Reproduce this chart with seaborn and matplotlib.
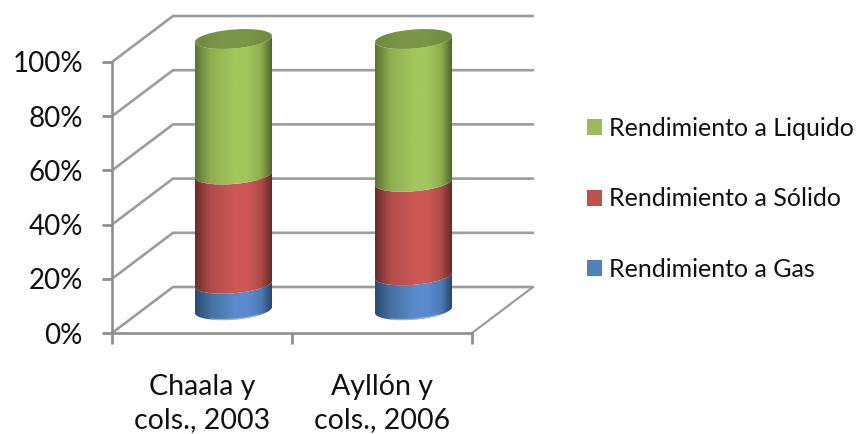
import numpy as np
import pandas as pd
import seaborn as sns
import matplotlib
matplotlib.use("Agg")
import matplotlib.pyplot as plt
from matplotlib.colors import LinearSegmentedColormap
from matplotlib.patches import Patch
from matplotlib.path import Path

fuentes = ["Chaala y\ncols., 2003", "Ayllón y\ncols., 2006"]
gas = [9.7, 12.8]
solido = [40.3, 34.5]
liquido = [50.0, 52.7]
series_names = ["Rendimiento a Gas", "Rendimiento a Sólido", "Rendimiento a Liquido"]
y_ticks = [0, 20, 40, 60, 80, 100]
y_labels = ["0%", "20%", "40%", "60%", "80%", "100%"]

flat_colors = ["#4F81BD", "#C0504D", "#9BBB59"]
# Shading across each cylinder: shadow, lit centre, shadow
shades = [
    ["#2B4A75", "#44709F", "#5A8ACB", "#5C8CD0", "#4D7AB5", "#27466F"],
    ["#6A2C2B", "#B04C4A", "#CC5755", "#CD5856", "#AD4B49", "#632A29"],
    ["#5B7430", "#8FAE50", "#A3C65D", "#A3C65D", "#90AE50", "#4E6629"],
]
cap_shade = ["#6F8A3C", "#7C9648", "#7B9546", "#6F8A3C"]
stops = [0.0, 0.2, 0.5, 0.68, 0.86, 1.0]

W, H = 860, 434
fig = plt.figure(figsize=(W / 100, H / 100), dpi=100)
sns.set_theme(style="white")
plt.rcParams["font.family"] = ["Lato", "DejaVu Sans"]
ax = fig.add_axes([112 / W, 1 - 333 / H, 360 / W, 271 / H], facecolor="none")

df = pd.DataFrame({"fuente": fuentes, series_names[0]: gas,
                   series_names[1]: solido, series_names[2]: liquido})

# Stacked bars; their geometry drives the cylinder shapes drawn below
bottom = np.zeros(len(fuentes))
stacks = []
for name, color in zip(series_names, flat_colors):
    sns.barplot(data=df, x="fuente", y=name, bottom=bottom, width=77 / 180,
                color=color, saturation=1, ax=ax)
    stacks.append(list(ax.containers[-1]))
    bottom = bottom + df[name].to_numpy()

ax.set_xlim(-0.5, 1.5)
ax.set_ylim(0, 100)
ax.set_xlabel("")
ax.set_ylabel("")

# Perspective of the chart box, in data units
depth_x = 61 / 180
depth_y = 46 / 2.71
shift_x = depth_x / 2 + 1 / 180   # cylinders stand mid-way along the floor
rim_b = 9.5 / 2.71   # ellipse half height
rim_s = 3.0 / 2.71   # ellipse tilt, right side higher

wall = "#9C9C9C"
for v in y_ticks:
    ax.plot([-0.5, -0.5 + depth_x, 1.5 + depth_x],
            [v, v + depth_y, v + depth_y],
            color=wall, lw=1.9, clip_on=False, zorder=1, solid_joinstyle="miter")
ax.plot([1.5, 1.5 + depth_x], [0, depth_y], color=wall, lw=1.6, clip_on=False, zorder=1)


def arc(cx, cy, half_w, start, stop):
    t = np.linspace(start, stop, 60)
    return np.column_stack([cx + half_w * np.cos(t),
                            cy + rim_b * np.sin(t) + rim_s * np.cos(t)])


def shaded(path, x0, x1, y0, y1, cmap, zorder):
    grad = np.linspace(0, 1, 256).reshape(1, -1)
    im = ax.imshow(grad, extent=[x0, x1, y0, y1], cmap=cmap, aspect="auto",
                   zorder=zorder, interpolation="bilinear")
    im.set_clip_box(fig.bbox)
    im.set_clip_path(path, ax.transData)


for bars, colors in zip(stacks, shades):
    cmap = LinearSegmentedColormap.from_list("side", list(zip(stops, colors)))
    for bar in bars:
        half_w = bar.get_width() / 2
        cx = bar.get_x() + half_w + shift_x
        lo = bar.get_y() + depth_y / 2
        hi = lo + bar.get_height()
        bar.set_visible(False)
        # Front arc of the lower rim, then the same arc back along the upper rim
        lower = arc(cx, lo, half_w, np.pi, 2 * np.pi)
        upper = arc(cx, hi, half_w, 2 * np.pi, np.pi)
        path = Path(np.vstack([lower, upper, lower[:1]]))
        shaded(path, cx - half_w, cx + half_w, lo - 2 * rim_b, hi + 2 * rim_b, cmap, 3)

# Upper caps and the pale rim at the foot of each cylinder
cap_cmap = LinearSegmentedColormap.from_list("cap", cap_shade)
for bar in stacks[2]:
    half_w = bar.get_width() / 2
    cx = bar.get_x() + half_w + shift_x
    hi = bar.get_y() + bar.get_height() + depth_y / 2
    ring = arc(cx, hi, half_w, 0, 2 * np.pi)
    shaded(Path(ring), cx - half_w, cx + half_w, hi - 2 * rim_b, hi + 2 * rim_b, cap_cmap, 4)
for bar in stacks[0]:
    half_w = bar.get_width() / 2
    cx = bar.get_x() + half_w + shift_x
    foot = arc(cx, depth_y / 2 + 0.15, half_w, 1.3 * np.pi, 1.72 * np.pi)
    ax.plot(foot[:, 0], foot[:, 1], color="#8DB3E2", lw=1.0, clip_on=False, zorder=5)

ax.set_xlim(-0.5, 1.5)
ax.set_ylim(0, 100)

for side in ("top", "right"):
    ax.spines[side].set_visible(False)
for side in ("left", "bottom"):
    ax.spines[side].set_color("#8E8E8E")
    ax.spines[side].set_linewidth(1.9)

ax.set_yticks(y_ticks)
ax.set_yticklabels(y_labels, fontsize=20, color="#111111")
ax.tick_params(axis="y", which="major", left=True, length=7, width=2,
               color="#8E8E8E", pad=14)
ax.set_xticks([-0.5, 0.5, 1.5])
ax.set_xticklabels(["", "", ""])
ax.tick_params(axis="x", which="major", bottom=True, length=8, width=2, color="#8E8E8E")
ax.set_xticks([0, 1], minor=True)
ax.set_xticklabels(fuentes, minor=True, fontsize=20.5, color="#111111", linespacing=1.35)
ax.tick_params(axis="x", which="minor", bottom=False, length=0, pad=29.5)

handles = [Patch(facecolor=c, edgecolor="none") for c in flat_colors[::-1]]
fig.legend(handles, series_names[::-1], loc="center left",
           bbox_to_anchor=(587 / W, 1 - 199 / H), frameon=False, fontsize=18,
           labelcolor="#111111", handlelength=0.6, handleheight=0.6,
           handletextpad=0.28, labelspacing=1.9, borderpad=0, borderaxespad=0)

fig.savefig("out.png", dpi=100, facecolor="white")
